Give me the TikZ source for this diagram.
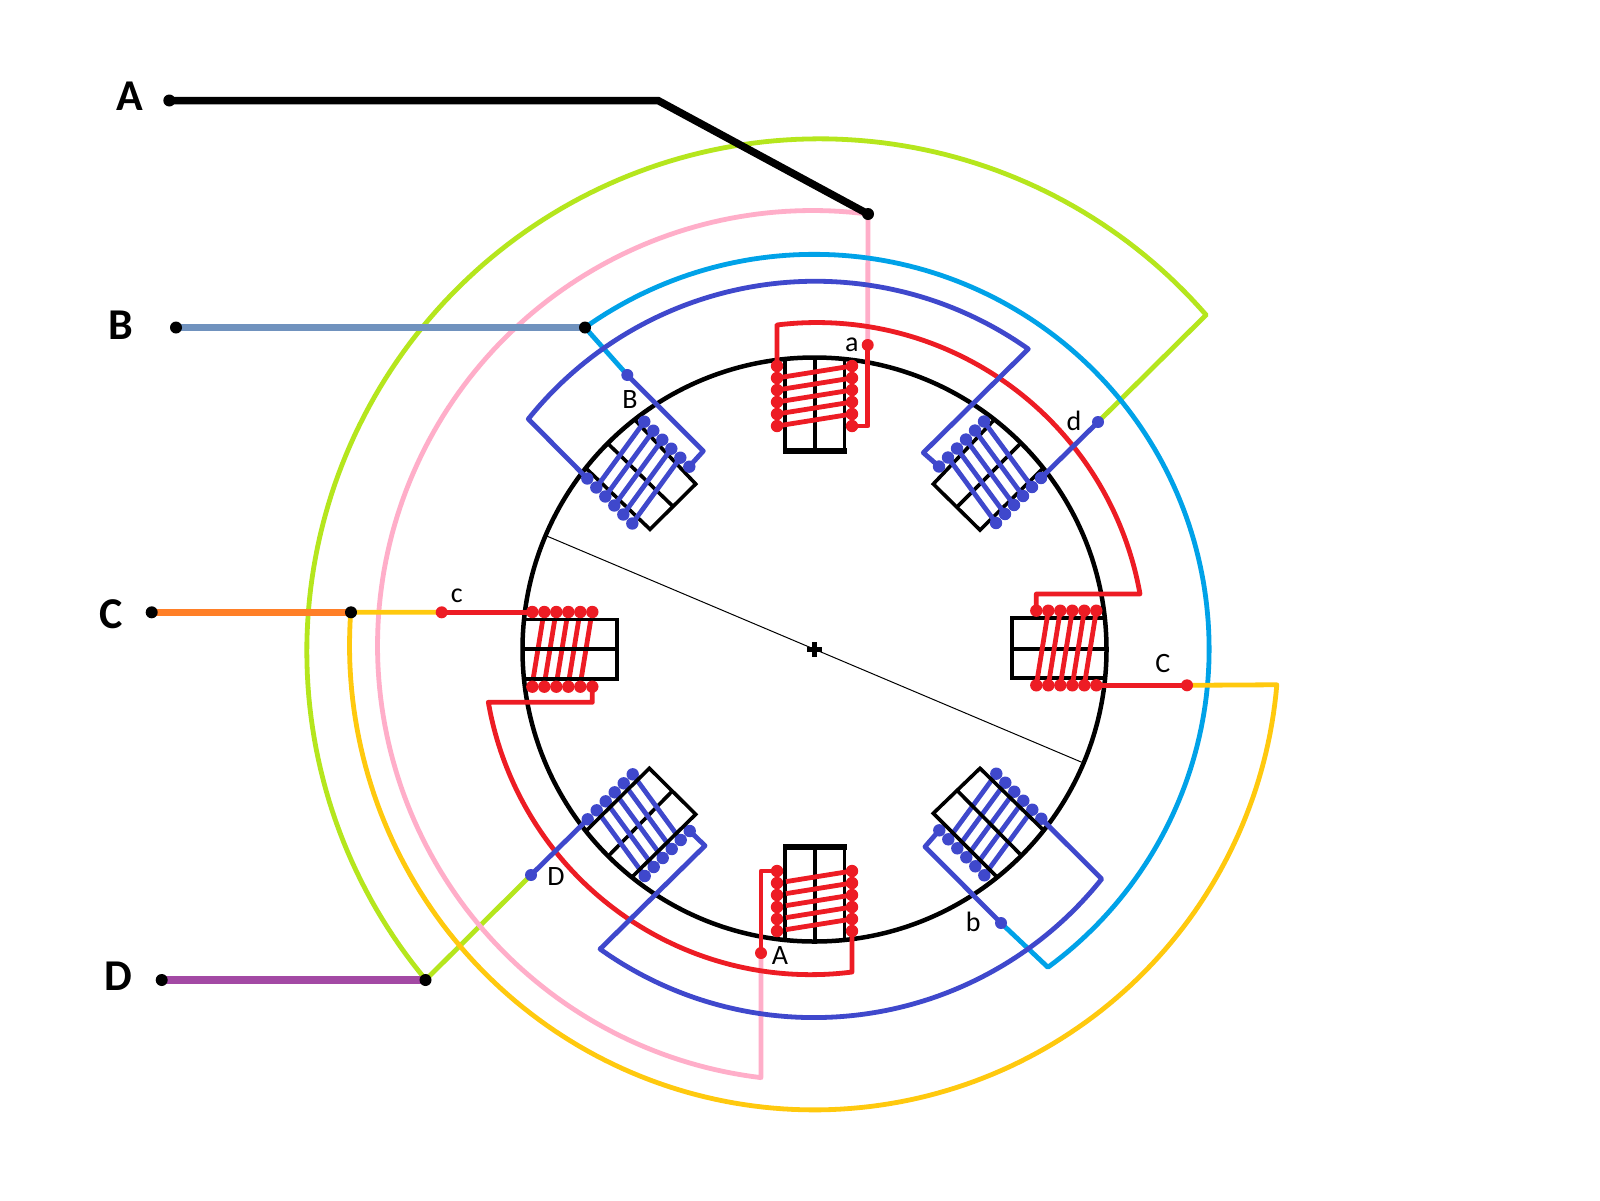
\documentclass[tikz,border=0pt]{standalone}
\usepackage{fontspec}
\setmainfont{Carlito}
\definecolor{wred}{HTML}{ED1C24}
\definecolor{windigo}{HTML}{3F48CC}
\definecolor{wcyan}{HTML}{00A2E8}
\definecolor{wlime}{HTML}{B5E61D}
\definecolor{wpink}{HTML}{FFAEC9}
\definecolor{wgold}{HTML}{FFC90E}
\definecolor{worange}{HTML}{FF7F27}
\definecolor{wpurple}{HTML}{A349A4}
\definecolor{wsteel}{HTML}{7092BE}
\newcommand{\RX}[4]{814.5+(#3+(#4-#3)*(\x-(#1))/((#2)-(#1)))*cos(\x)}
\newcommand{\RY}[4]{649.5+(#3+(#4-#3)*(\x-(#1))/((#2)-(#1)))*sin(\x)}
\tikzset{
  wire/.style={line width=4.8pt,line join=round,line cap=butt},
  lead/.style={line width=7.5pt},
  frame/.style={line width=3.6pt,draw=black,line join=miter},
  bigl/.style={anchor=base,font=\fontsize{44}{44}\selectfont\bfseries,inner sep=0pt},
  smalll/.style={anchor=base,font=\fontsize{28}{28}\selectfont,inner sep=0pt},
  pt/.style={circle,inner sep=0pt,minimum size=12pt,draw=none},
  rdot/.style={pt,fill=wred},
  bdot/.style={pt,fill=windigo},
  kdot/.style={pt,fill=black},
  arcs/.style={samples=150}
}
\begin{document}
\begin{tikzpicture}[x=1pt,y=-1pt]
\useasboundingbox (0,0) rectangle (1600,1200);
\fill[white] (0,0) rectangle (1600,1200);
\coordinate (kA) at (658,100.5);
\coordinate (cA) at (169.3,100.5);
\coordinate (cJA) at (868,214);
\coordinate (cB) at (176,327.5);
\coordinate (cJB) at (585,327.5);
\coordinate (cC) at (151.7,612.3);
\coordinate (cJC) at (351,612.3);
\coordinate (cD) at (161.7,980);
\coordinate (cJD) at (425.5,980);
\coordinate (ca) at (867.7,345);
\coordinate (cAA) at (761,953);
\coordinate (cc) at (441.7,612.3);
\coordinate (cCC) at (1187,685.3);
\coordinate (cBB) at (627.3,375);
\coordinate (cb) at (1001,923);
\coordinate (cd) at (1098,422);
\coordinate (cDD) at (531,875);
% outer wires
\draw[wire,wlime] (cJD) -- plot[arcs,domain=140.2:319] ({819.4+512.6*cos(\x)},{651.4+512.6*sin(\x)}) -- (1206,315) -- (cd);
\draw[wire,wlime] (cJD) -- (cDD);
\draw[wire,wpink] (cJA) -- (ca);
\draw[wire,wpink] (cJA) -- plot[arcs,domain=-82.7:-263.2] ({812.6+435.1*cos(\x)},{645.6+435.1*sin(\x)}) -- (761,1077.7) -- (cAA);
\draw[wire,wcyan] (cBB) -- (cJB) -- plot[arcs,domain=234.5:413.7] ({\RX{234.5}{413.7}{395.4}{394.3}},{\RY{234.5}{413.7}{395.4}{394.3}}) -- (cb);
\draw[wire,wgold] (cc) -- (cJC) -- plot[arcs,domain=184.1:4.86] ({814+464.5*cos(\x)},{645.4+464.5*sin(\x)}) -- (cCC);
% stator
\draw[line width=4.5pt] (814.5,649.5) circle[radius=292];
\draw[line width=1pt] (546,535.7) -- (1081.6,762.2);
\draw[line width=4.5pt] (807,649.5) -- (822,649.5) (814.5,642) -- (814.5,657);
% leads
\draw[lead] (cA) -- (kA) -- (cJA);
\draw[lead,wsteel] (cB) -- (cJB);
\draw[lead,worange] (cC) -- (cJC);
\draw[lead,wpurple] (cD) -- (cJD);
% north slot
\draw[frame] (785,357) -- (785,451) -- (844.5,451) -- (844.5,357) (815,357) -- (815,451);
\draw[line width=6pt] (783,451) -- (846.5,451);
\foreach \k in {0,...,4} \draw[wire,wred] (777,{378+12*\k}) -- (852,{366+12*\k});
\foreach \k in {0,...,5} {\fill[wred] (777,{366+12*\k}) circle[radius=6.2]; \fill[wred] (852,{366+12*\k}) circle[radius=6.2];}
% south slot
\draw[frame] (785,942) -- (785,847) -- (844.5,847) -- (844.5,942) (815,847) -- (815,942);
\draw[line width=6pt] (783,847) -- (846.5,847);
\foreach \k in {0,...,4} \draw[wire,wred] (786,{881.6+12*\k}) -- (852,{871+12*\k});
\foreach \k in {0,...,5} {\fill[wred] (777,{871+12*\k}) circle[radius=6.2]; \fill[wred] (852,{871+12*\k}) circle[radius=6.2];}
% east slot
\draw[frame] (1105,618) -- (1012,618) -- (1012,678) -- (1105,678) (1012,649) -- (1107,649);
\foreach \k in {0,...,4} \draw[wire,wred] ({1048.3+12*\k},610.7) -- ({1036.3+12*\k},685.3);
\foreach \k in {0,...,5} {\fill[wred] ({1036.3+12*\k},610.7) circle[radius=6.2]; \fill[wred] ({1036.3+12*\k},685.3) circle[radius=6.2];}
% west slot
\foreach \k in {0,...,4} \draw[wire,wred] ({542.7+12*\k},620) -- ({533.3+12*\k},678);
\draw[frame] (524,619.3) -- (617,619.3) -- (617,679) -- (524,679) (522,649) -- (617,649);
\foreach \k in {0,...,5} {\fill[wred] ({532.3+12*\k},612) circle[radius=6.2]; \fill[wred] ({532.3+12*\k},686.7) circle[radius=6.2];}
% north-west slot
\draw[frame] (586,468.3) -- (650,529.3) -- (695.7,484) -- (635,420) (608.3,444) -- (672.3,505.7);
\foreach \k in {0,...,4} \draw[wire,windigo] ({596.3+9*\k},{487.5+9*\k}) -- ({644.3+9*\k},{421.7+9*\k});
\foreach \k in {0,...,5} {\fill[windigo] ({587.3+9*\k},{478.5+9*\k}) circle[radius=6.2]; \fill[windigo] ({644.3+9*\k},{421.7+9*\k}) circle[radius=6.2];}
% north-east slot
\draw[frame] (1043,468.3) -- (980,530) -- (933.3,484) -- (994,420) (1020.7,443.3) -- (958.3,505.7);
\foreach \k in {0,...,4} \draw[wire,windigo] ({948+9*\k},{457.5-9*\k}) -- ({996+9*\k},{523-9*\k});
\foreach \k in {0,...,5} {\fill[windigo] ({939+9*\k},{466.5-9*\k}) circle[radius=6.2]; \fill[windigo] ({996+9*\k},{523-9*\k}) circle[radius=6.2];}
% south-west slot
\draw[line width=3.6pt] (671.7,791.7) -- (609.3,855);
\foreach \k in {0,...,4} \draw[wire,windigo] ({596.7+9*\k},{810.3-9*\k}) -- ({644.7+9*\k},{876-9*\k});
\foreach \k in {0,...,5} {\fill[windigo] ({587.7+9*\k},{819.3-9*\k}) circle[radius=6.2]; \fill[windigo] ({644.7+9*\k},{876-9*\k}) circle[radius=6.2];}
\draw[frame] (586,831) -- (649.3,768.3) -- (695.7,814.3) -- (632.3,876.7);
% south-east slot
\foreach \k in {0,...,4} \draw[wire,windigo] ({948.3+9*\k},{839.3+9*\k}) -- ({996.3+9*\k},{773.7+9*\k});
\foreach \k in {0,...,5} {\fill[windigo] ({996.3+9*\k},{773.7+9*\k}) circle[radius=6.2]; \fill[windigo] ({939.3+9*\k},{830.3+9*\k}) circle[radius=6.2];}
\draw[frame] (1043.3,830) -- (980,768.3) -- (933.3,813.3) -- (996.7,876.7) (958.3,791.7) -- (1020,854);
% red connections
\draw[wire,wred] (777,366) -- (777,325) -- plot[arcs,domain=263.4:350.32] ({\RX{263.4}{350.32}{326.7}{330.2}},{\RY{263.4}{350.32}{326.7}{330.2}}) -- (1140,594) -- (1036.3,594) -- (1036.3,610.7);
\draw[wire,wred] (852,931) -- (852,972) -- plot[arcs,domain=83.37:170.8] ({\RX{83.37}{170.8}{324.7}{330.4}},{\RY{83.37}{170.8}{324.7}{330.4}}) -- (488.3,702.3) -- (592.3,702.3) -- (592.3,686.7);
\draw[wire,wred] (852,426) -- (867.7,426) -- (ca);
\draw[wire,wred] (777,871) -- (761,871) -- (cAA);
\draw[wire,wred] (cc) -- (532.3,612.3);
\draw[wire,wred] (cCC) -- (1096.3,685.3);
% blue connections
\draw[wire,windigo] (587.3,478.5) -- plot[arcs,domain=218.85:305.4] ({\RX{218.85}{305.4}{367.5}{368.8}},{\RY{218.85}{305.4}{367.5}{368.8}}) -- (1028.3,349) -- (923.3,452.7) -- (939,466.5);
\draw[wire,windigo] (689.3,466.5) -- (703.3,451) -- (cBB);
\draw[wire,windigo] (1041,478) -- (cd);
\draw[wire,windigo] (1041.3,818.7) -- (1101.7,879) -- plot[arcs,domain=38.63:125.6] ({\RX{38.63}{125.6}{367.6}{368.4}},{\RY{38.63}{125.6}{367.6}{368.4}}) -- (705,845.7) -- (689.7,831);
\draw[wire,windigo] (939.3,830.3) -- (925,846.7) -- (cb);
\draw[wire,windigo] (587.7,819.3) -- (cDD);
% terminal dots
\node[kdot] (tA) at (cA) {};
\node[kdot] (jA) at (cJA) {};
\node[kdot] (tB) at (cB) {};
\node[kdot] (jB) at (cJB) {};
\node[kdot] (tC) at (cC) {};
\node[kdot] (jC) at (cJC) {};
\node[kdot] (tD) at (cD) {};
\node[kdot] (jD) at (cJD) {};
\node[rdot] (pa) at (ca) {};
\node[rdot] (pA) at (cAA) {};
\node[rdot] (pc) at (cc) {};
\node[rdot] (pC) at (cCC) {};
\node[bdot] (pB) at (cBB) {};
\node[bdot] (pb) at (cb) {};
\node[bdot] (pd) at (cd) {};
\node[bdot] (pD) at (cDD) {};
% labels
\node[bigl] (lA) at (129.8,110) {A};
\node[bigl] (lB) at (121.3,339.5) {B};
\node[bigl] (lC) at (111.3,628) {C};
\node[bigl] (lD) at (118.3,990) {D};
\node[smalll] (la) at (851.7,351.7) {a};
\node[smalll] (lbB) at (630,408) {B};
\node[smalll] (ld) at (1074,430.7) {d};
\node[smalll] (lcC) at (1162.7,672.7) {C};
\node[smalll] (lc) at (456.7,602.3) {c};
\node[smalll] (lcD) at (556,885) {D};
\node[smalll] (lb) at (973.3,931.7) {b};
\node[smalll] (lcA) at (780,964.3) {A};
\end{tikzpicture}
\end{document}
